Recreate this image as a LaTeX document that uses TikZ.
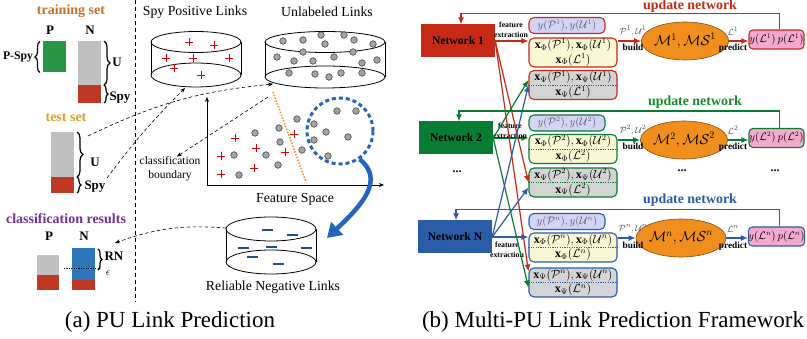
\documentclass[tikz,border=0pt]{standalone}
\usepackage{amsmath,amssymb}
\usepackage{fontspec}
\setmainfont{Liberation Serif}
\usepackage{tikz}
\usetikzlibrary{arrows.meta}
\usetikzlibrary{shapes.geometric}
\usetikzlibrary{decorations.pathreplacing}

\definecolor{trainclr}{RGB}{205,110,40}
\definecolor{testclr}{RGB}{214,165,35}
\definecolor{resclr}{RGB}{112,48,150}
\definecolor{posgreen}{RGB}{40,150,70}
\definecolor{unlgrey}{RGB}{192,192,192}
\definecolor{spyred}{RGB}{190,58,38}
\definecolor{rnblue}{RGB}{45,118,185}
\definecolor{netred}{RGB}{196,42,22}
\definecolor{netgreen}{RGB}{8,124,50}
\definecolor{netblue}{RGB}{42,92,168}
\definecolor{clusterblue}{RGB}{38,100,188}
\definecolor{boundclr}{RGB}{245,150,40}
\definecolor{dotgrey}{RGB}{165,165,165}
\definecolor{minusblue}{RGB}{30,80,145}
\definecolor{labfill}{RGB}{212,212,246}
\definecolor{phifill}{RGB}{250,248,212}
\definecolor{psifill}{RGB}{212,212,212}
\definecolor{modelfill}{RGB}{240,142,30}
\definecolor{predfill}{RGB}{244,170,206}

\begin{document}
\begin{tikzpicture}[x=1pt,y=-1pt,
    bar/.style={inner sep=0pt,outer sep=0pt},
    head/.style={font=\bfseries\fontsize{14}{14}\selectfont},
    tag/.style={font=\bfseries\fontsize{13}{13}\selectfont,inner sep=0pt},
    title/.style={font=\fontsize{13.8}{14}\selectfont},
    curly/.style={decorate,decoration={brace,amplitude=#1},line width=1.2pt},
    link/.style={line width=0.6pt,dash pattern=on 3.5pt off 2.5pt,-{Stealth[length=5pt,width=4pt]}},
    axis/.style={line width=0.8pt,-{Stealth[length=5pt,width=4pt]}},
    posmark/.style={draw=red!85!black,line width=0.9pt},
    negmark/.style={draw=minusblue,line width=2pt},
    unl/.style={fill=dotgrey,draw=black!80,line width=0.5pt},
    net/.style={fill=#1,minimum width=74pt,minimum height=33pt,inner sep=0pt,font=\bfseries\fontsize{11.6}{12}\selectfont},
    labbox/.style={draw=#1,fill=labfill,rounded corners=5pt,line width=1.1pt,minimum width=76pt,minimum height=16pt,inner sep=0pt,font=\fontsize{10.5}{11}\selectfont,text=black!65},
    featbox/.style={draw=#1,rounded corners=5pt,line width=1.1pt,minimum width=88pt,minimum height=29pt,inner sep=0pt,align=center,font=\fontsize{12}{14.8}\selectfont},
    divider/.style={draw=#1,line width=0.7pt,dash pattern=on 1.2pt off 1.2pt},
    model/.style={ellipse,fill=modelfill,draw=modelfill!55!black,line width=0.6pt,minimum width=62pt,minimum height=38pt,inner sep=0pt,font=\fontsize{14}{14}\selectfont},
    predbox/.style={draw=#1,fill=predfill,rounded corners=4pt,line width=1.1pt,minimum width=55pt,minimum height=19pt,inner sep=0pt,font=\fontsize{10.5}{11}\selectfont},
    flow/.style={draw=#1,line width=1.2pt,-{Latex[length=7pt,width=6pt]}},
    fe/.style={align=center,font=\bfseries\fontsize{7.8}{10}\selectfont,inner sep=0pt},
    act/.style={font=\bfseries\fontsize{9.3}{10}\selectfont,inner sep=0pt},
    mlabel/.style={font=\fontsize{9.5}{10}\selectfont,text=black!70,inner sep=0pt},
    upd/.style={font=\bfseries\fontsize{13.9}{14}\selectfont,inner sep=0pt},
    caption/.style={font=\fontsize{23}{24}\selectfont,inner sep=0pt}]
  \useasboundingbox (0,0) rectangle (807,339);

  % ---- (a) training / test / results bars
  \node[head,text=trainclr] (trainlbl) at (71,11) {training set};
  \node[tag] (trainPlbl) at (50,30) {P};
  \node[tag] (trainNlbl) at (90,30) {N};
  \node[bar,fill=posgreen,minimum width=23pt,minimum height=31pt] (trainP) at (54.5,57) {};
  \node[bar,fill=unlgrey,minimum width=23pt,minimum height=44pt] (trainU) at (89.5,63) {};
  \node[bar,fill=spyred,minimum width=23pt,minimum height=18pt] (trainSpy) at (89.5,94) {};
  \draw[curly=5pt] ([xshift=-3pt]trainP.south west) -- ([xshift=-3pt]trainP.north west);
  \node[font=\bfseries\fontsize{11.7}{12}\selectfont,inner sep=0pt] (pspylbl) at (18,57) {P-Spy};
  \draw[curly=6pt] ([xshift=3pt]trainU.north east) -- ([xshift=3pt]trainU.south east);
  \node[tag] (trainUlbl) at (117,62) {U};
  \draw[curly=4pt] ([xshift=3pt]trainSpy.north east) -- ([xshift=3pt]trainSpy.south east);
  \node[tag] (trainSpylbl) at (120,98) {Spy};

  \node[head,text=testclr] (testlbl) at (66,118) {test set};
  \node[bar,fill=unlgrey,minimum width=23pt,minimum height=45pt] (testU) at (62.5,154.5) {};
  \node[bar,fill=spyred,minimum width=23pt,minimum height=16pt] (testSpy) at (62.5,185) {};
  \draw[curly=6pt] ([xshift=3pt]testU.north east) -- ([xshift=3pt]testU.south east);
  \node[tag] (testUlbl) at (95,162) {U};
  \draw[curly=4pt] ([xshift=3pt]testSpy.north east) -- ([xshift=3pt]testSpy.south east);
  \node[tag] (testSpylbl) at (95,187) {Spy};

  \node[head,text=resclr] (reslbl) at (66,219) {classification results};
  \node[tag] (resPlbl) at (49,236) {P};
  \node[tag] (resNlbl) at (84,236) {N};
  \node[bar,fill=unlgrey,minimum width=22pt,minimum height=20pt] (resP) at (48,265) {};
  \node[bar,fill=spyred,minimum width=22pt,minimum height=15pt] (resPspy) at (48,282.5) {};
  \node[bar,fill=rnblue,minimum width=23pt,minimum height=32pt] (resN) at (83.5,264) {};
  \node[bar,fill=spyred,minimum width=23pt,minimum height=10pt] (resNspy) at (83.5,285) {};
  \draw[curly=4pt] (98,249) -- (98,270);
  \node[tag] (rnlbl) at (114,256) {RN};
  \draw[line width=0.7pt,dash pattern=on 1.2pt off 1.2pt] (64,268) -- (100,268);
  \node[font=\fontsize{11}{11}\selectfont,inner sep=0pt] (epslbl) at (108,273) {$\epsilon$};

  \draw[line width=0.6pt,dash pattern=on 4pt off 3pt] (135,0) -- (135,302);

  % ---- link sets
  \node[title] (spytitle) at (195,12) {Spy Positive Links};
  \draw[line width=0.8pt] (196,42) ellipse (45pt and 10.5pt);
  \draw[line width=0.8pt] (196,75) ellipse (45pt and 12pt);
  \draw[line width=0.8pt] (151,42) -- (151,75) (241,42) -- (241,75);
  \foreach \px/\py in {189/42,214/45,166/58,193/58,229/58,174/68,201/75}
    \draw[posmark] (\px-4,\py) -- (\px+4,\py) (\px,\py-4) -- (\px,\py+4);

  \node[title] (unltitle) at (327,12) {Unlabeled Links};
  \draw[line width=0.8pt] (325,42) ellipse (60pt and 10.5pt);
  \draw[line width=0.8pt] (325,77) ellipse (60pt and 11pt);
  \draw[line width=0.8pt] (265,42) -- (265,77) (385,42) -- (385,77);
  \foreach \px/\py in {283/41,303/40,321/35,344/35,354/40,373/44,325/44,303/52,353/52,277/57,
                       294/61,313/61,334/57,362/63,377/60,289/73,315/74,329/77,341/73,362/73}
    \draw[unl] (\px,\py) circle (3.3pt);

  \node[title] (rntitle) at (273,287) {Reliable Negative Links};
  \draw[line width=0.8pt] (271,229) ellipse (45pt and 12pt);
  \draw[line width=0.8pt] (271,262) ellipse (45pt and 12pt);
  \draw[line width=0.8pt] (226,229) -- (226,262) (316,229) -- (316,262);
  \foreach \px/\py in {267/230,292/235,243/248,271/247,306/248,252/257,278/264}
    \draw[negmark] (\px-5.5,\py) -- (\px+5.5,\py);

  % ---- feature space
  \coordinate (origin) at (207,185);
  \coordinate (yEnd) at (207,97);
  \coordinate (xEnd) at (384,185);
  \draw[axis] (origin) -- (yEnd);
  \draw[axis] (origin) -- (xEnd);
  \node[title] (fslbl) at (295,199) {Feature Space};
  \coordinate (bndTop) at (273,92);
  \coordinate (bndBot) at (306,182);
  \draw[boundclr,line width=1.6pt,dash pattern=on 1.5pt off 1.5pt] (bndTop) -- (bndBot);
  \node[align=center,font=\fontsize{11.5}{14}\selectfont,inner sep=0pt] (bndlbl) at (170,169) {classification\\boundary};
  \foreach \px/\py in {235/138,256/148,221/156,285/152,294/134,254/168,221/174}
    \draw[posmark] (\px-4,\py) -- (\px+4,\py) (\px,\py-4) -- (\px,\py+4);
  \foreach \px/\py in {255/133,279/128,297/119,280/142,266/155,234/155,278/165,302/150,239/175,
                       337/111,356/111,314/124,326/132,348/137,314/140,328/156}
    \draw[unl] (\px,\py) circle (3.3pt);
  \node[circle,draw=clusterblue,line width=3pt,dash pattern=on 4pt off 3pt,minimum size=66pt,inner sep=0pt] (cluster) at (340,131) {};
  \coordinate (rnTip) at (327,238);
  \draw[clusterblue,line width=4.5pt,-{Triangle[length=14pt,width=17pt]}] (cluster.-55) .. controls (385,180) and (362,205) .. (rnTip);

  % dashed links between the sets
  \coordinate (testTop) at (88,136);
  \coordinate (testLow) at (107,178);
  \coordinate (resIn) at (115,243);
  \coordinate (spyBase) at (185,88);
  \coordinate (unlBase) at (273,84);
  \coordinate (bndStart) at (268,97);
  \coordinate (rnSide) at (226,228);
  \draw[link] (testTop) to[bend left=10] (unlBase);
  \draw[link] (testLow) to[bend left=4] (spyBase);
  \draw[link] (bndStart) -- ([xshift=7pt]bndlbl.north);
  \draw[link] (rnSide) to[bend right=12] (resIn);

  \node[caption] (capA) at (170,322) {(a) PU Link Prediction};

  % ---- (b) networks
  \node[net=netred] (net1) at (458,41) {Network 1};
  \node[net=netgreen] (net2) at (456,138) {Network 2};
  \node[net=netblue] (netN) at (455,237) {Network N};
  \node[font=\bfseries\fontsize{12}{12}\selectfont] (dotsA) at (457,172) {...};

  % feature matrices
  \node[labbox=netred] (lab1) at (567,25.5) {$y(\mathcal{P}^1),y(\mathcal{U}^1)$};
  \node[featbox=netred,fill=phifill] (phi1) at (573,52.5) {$\mathbf{x}_\Phi(\mathcal{P}^1),\mathbf{x}_\Phi(\mathcal{U}^1)$\\$\mathbf{x}_\Phi(\mathcal{L}^1)$};
  \node[featbox=netred,fill=psifill] (psi1) at (573,85) {$\mathbf{x}_\Psi(\mathcal{P}^1),\mathbf{x}_\Psi(\mathcal{U}^1)$\\$\mathbf{x}_\Psi(\mathcal{L}^1)$};
  \draw[divider=netred] (psi1.west) -- (psi1.east);

  \node[labbox=netgreen] (lab2) at (567,123) {$y(\mathcal{P}^2),y(\mathcal{U}^2)$};
  \node[featbox=netgreen,fill=phifill] (phi2) at (573,149) {$\mathbf{x}_\Phi(\mathcal{P}^2),\mathbf{x}_\Phi(\mathcal{U}^2)$\\$\mathbf{x}_\Phi(\mathcal{L}^2)$};
  \node[featbox=netgreen,fill=psifill] (psi2) at (573,182.5) {$\mathbf{x}_\Psi(\mathcal{P}^2),\mathbf{x}_\Psi(\mathcal{U}^2)$\\$\mathbf{x}_\Psi(\mathcal{L}^2)$};
  \draw[divider=netgreen] (phi2.west) -- (phi2.east);
  \draw[divider=netgreen] (psi2.west) -- (psi2.east);

  \node[labbox=netblue] (labN) at (567,221.5) {$y(\mathcal{P}^n),y(\mathcal{U}^n)$};
  \node[featbox=netblue,fill=phifill] (phiN) at (573,247.5) {$\mathbf{x}_\Phi(\mathcal{P}^n),\mathbf{x}_\Phi(\mathcal{U}^n)$\\$\mathbf{x}_\Phi(\mathcal{L}^n)$};
  \node[featbox=netblue,fill=psifill] (psiN) at (573,282.5) {$\mathbf{x}_\Psi(\mathcal{P}^n),\mathbf{x}_\Psi(\mathcal{U}^n)$\\$\mathbf{x}_\Psi(\mathcal{L}^n)$};
  \draw[divider=netblue] (phiN.west) -- (phiN.east);
  \draw[divider=netblue] (psiN.west) -- (psiN.east);

  % feature extraction
  \draw[flow=netred] (net1.east) -- (net1.east -| phi1.west);
  \draw[flow=netgreen] (net2.east) -- (net2.east -| phi2.west);
  \draw[flow=netblue] (netN.east) -- (netN.east -| phiN.west);
  \node[fe] (fe1) at (511,30) {feature\\extraction};
  \node[fe] (fe2) at (510,131) {feature\\extraction};
  \node[fe] (feN) at (507,250) {feature\\extraction};
  \draw[flow=netred] (net1.east) -- (psi2.west);
  \draw[flow=netred] (net1.east) -- ([yshift=11pt]psiN.west);
  \draw[flow=netgreen] (net2.east) -- ([yshift=5pt]psi1.west);
  \draw[flow=netgreen] (net2.east) -- ([yshift=-5pt]psiN.west);
  \draw[flow=netblue] (netN.east) -- (psi1.west);
  \draw[flow=netblue] (netN.east) -- ([yshift=-5pt]psi2.west);

  % models and predictions
  \node[model] (mod1) at (685,41) {$\mathcal{M}^1,\mathcal{MS}^1$};
  \node[model] (mod2) at (684,140) {$\mathcal{M}^2,\mathcal{MS}^2$};
  \node[model] (modN) at (681,238) {$\mathcal{M}^n,\mathcal{MS}^n$};
  \node[predbox=netred] (pred1) at (776.5,39.5) {$y(\mathcal{L}^1)\,p(\mathcal{L}^1)$};
  \node[predbox=netgreen] (pred2) at (776.5,138) {$y(\mathcal{L}^2)\,p(\mathcal{L}^2)$};
  \node[predbox=netblue] (predN) at (776.5,236.5) {$y(\mathcal{L}^n)\,p(\mathcal{L}^n)$};
  \node[font=\bfseries\fontsize{12}{12}\selectfont] (dotsB) at (682,171) {...};
  \node[font=\bfseries\fontsize{12}{12}\selectfont] (dotsC) at (775,171) {...};

  \draw[flow=netred] (mod1.west -| phi1.east) -- (mod1.west);
  \draw[flow=netgreen] (mod2.west -| phi2.east) -- (mod2.west);
  \draw[flow=netblue] (modN.west -| phiN.east) -- (modN.west);
  \node[mlabel] (in1) at (633,31) {$\mathcal{P}^1,\mathcal{U}^1$};
  \node[mlabel] (in2) at (633,130) {$\mathcal{P}^2,\mathcal{U}^2$};
  \node[mlabel] (inN) at (633,229) {$\mathcal{P}^n,\mathcal{U}^n$};
  \node[act] (build1) at (633,47) {build};
  \node[act] (build2) at (633,146) {build};
  \node[act] (buildN) at (633,245) {build};

  \draw[flow=netred] (mod1.east) -- (mod1.east -| pred1.west);
  \draw[flow=netgreen] (mod2.east) -- (mod2.east -| pred2.west);
  \draw[flow=netblue] (modN.east) -- (modN.east -| predN.west);
  \node[mlabel] (out1) at (733,31) {$\mathcal{L}^1$};
  \node[mlabel] (out2) at (733,130) {$\mathcal{L}^2$};
  \node[mlabel] (outN) at (733,229) {$\mathcal{L}^n$};
  \node[act] (pr1) at (733,48) {predict};
  \node[act] (pr2) at (733,147) {predict};
  \node[act] (prN) at (733,246) {predict};

  % update loops
  \draw[flow=netred] ([xshift=3pt]pred1.north) -- ++(0,-16) -| ([xshift=3pt]net1.north);
  \draw[flow=netgreen] ([xshift=3pt]pred2.north) -- ++(0,-17) -| ([xshift=3pt]net2.north);
  \draw[flow=netblue] ([xshift=3pt]predN.north) -- ++(0,-17) -| ([xshift=1pt]netN.north);
  \node[upd,text=netred] (upd1) at (690,6.5) {update network};
  \node[upd,text=netgreen!90!lime] (upd2) at (695,102) {update network};
  \node[upd,text=netblue] (updN) at (690,200) {update network};

  \node[caption] (capB) at (613,322) {(b) Multi-PU Link Prediction Framework};
\end{tikzpicture}
\end{document}
